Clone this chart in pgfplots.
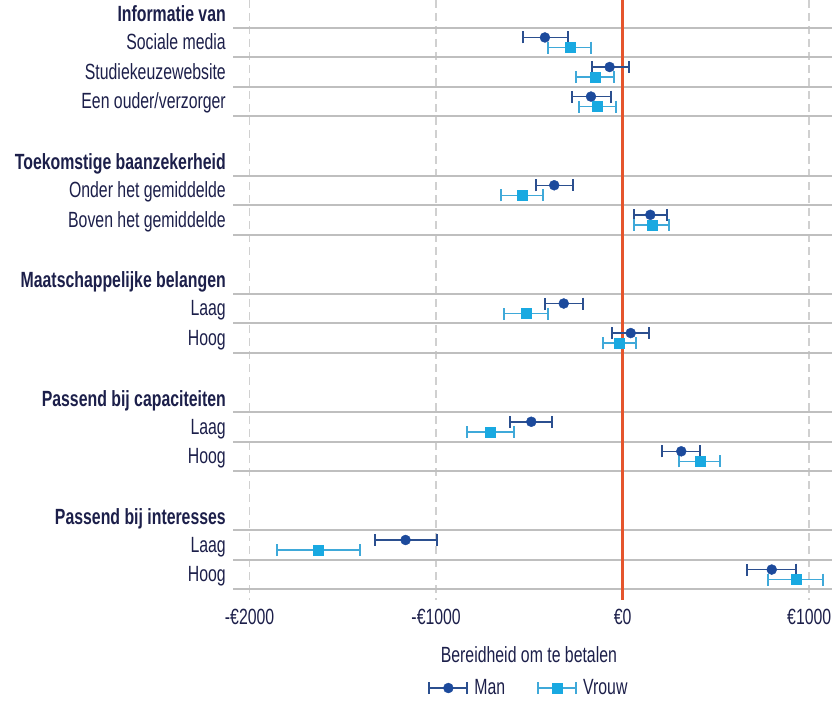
\documentclass[border=0pt]{standalone}
\usepackage{fontspec}
\setmainfont{Liberation Sans}[FakeStretch=0.72]
\usepackage{pgfplots}
\pgfplotsset{compat=1.18}
\usepackage{pgfplotstable}

\definecolor{navy}{HTML}{1C1F4A}
\definecolor{manblue}{HTML}{1C4A9C}
\definecolor{manbar}{HTML}{2B4F8F}
\definecolor{vrouwblue}{HTML}{19A9E1}
\definecolor{vrouwbar}{HTML}{3FA9D9}
\definecolor{zeroline}{HTML}{E5552D}
\definecolor{rowline}{HTML}{BFBFBF}
\definecolor{dashgrid}{HTML}{D0D0D0}

\newcommand\chartfont{\fontsize{22bp}{26bp}\selectfont}

% y = row position (top to bottom), m = estimate, lo/hi = interval bounds
\pgfplotstableread{
y     m      lo     hi
0.33  -417   -533   -295
1.33  -70    -166   34
2.33  -170   -273   -63
5.33  -367   -465   -265
6.33  148    59     239
9.33  -316   -418   -211
10.33 43     -57    141
13.33 -490   -603   -379
14.33 314    212    416
17.33 -1164  -1328  -997
18.33 799    665    929
}\man

\pgfplotstableread{
y     m      lo     hi
0.67  -283   -399   -170
1.67  -150   -252   -47
2.67  -138   -234   -36
5.67  -538   -654   -429
6.67  159    59     250
9.67  -515   -635   -402
10.67 -18    -107   71
13.67 -712   -837   -583
14.67 414    304    522
17.67 -1632  -1855  -1409
18.67 929    777    1076
}\vrouw

\begin{document}
\begin{tikzpicture}
\useasboundingbox (0,0) rectangle (832bp,702bp);
\begin{axis}[
  at={(233bp,102bp)}, anchor=south west,
  scale only axis, width=599bp, height=600bp,
  xmin=-2089, xmax=1122,
  ymin=-0.937, ymax=19.36, y dir=reverse,
  axis line style={draw=none},
  major tick length=0pt,
  font=\chartfont,
  xtick={-2000,-1000,0,1000},
  xticklabels={-€2000,-€1000,€0,€1000},
  xticklabel style={anchor=north, inner sep=0pt, yshift=-9bp, text=navy},
  xmajorgrids=true,
  major grid style={dash pattern=on 8bp off 5bp, color=dashgrid, line width=1.5bp},
  ytick={-0.2,0.75,1.75,2.75,4.8,5.75,6.75,8.8,9.75,10.75,12.8,13.75,14.75,16.8,17.75,18.75},
  yticklabels={
    \textbf{Informatie van}, Sociale media, Studiekeuzewebsite, Een ouder/verzorger,
    \textbf{Toekomstige baanzekerheid}, Onder het gemiddelde, Boven het gemiddelde,
    \textbf{Maatschappelijke belangen}, Laag, Hoog,
    \textbf{Passend bij capaciteiten}, Laag, Hoog,
    \textbf{Passend bij interesses}, Laag, Hoog},
  yticklabel style={anchor=base east, inner sep=0pt, xshift=-7bp, text=navy},
  extra y ticks={0,1,2,3,5,6,7,9,10,11,13,14,15,17,18,19},
  extra y tick labels={},
  extra y tick style={grid=major, major grid style={solid, color=rowline, line width=2bp}},
  xlabel={Bereidheid om te betalen},
  xlabel style={at={(axis description cs:0.494,-0.0917)}, anchor=center, text=navy},
  legend columns=2,
  legend style={at={(0.494,-0.1467)}, anchor=center, draw=none, fill=none,
    font=\chartfont, text=navy,
    /tikz/every odd column/.append style={column sep=4bp},
    /tikz/every even column/.append style={column sep=30bp}},
  legend image code/.code={
    \draw[#1, mark=none, line width=1.5bp] (0bp,0bp) -- (38bp,0bp);
    \draw[#1, mark=none, line width=2bp] (0bp,-6bp) -- (0bp,6bp) (38bp,-6bp) -- (38bp,6bp);
    \draw[#1, only marks] plot coordinates {(19bp,0bp)};
  },
]
% reference line at zero
\addplot[forget plot, color=zeroline, line width=2.5bp] coordinates {(0,-0.937) (0,19.36)};

\addplot[only marks, color=manbar, mark=*, mark size=5bp,
  mark options={fill=manblue, draw=manblue},
  error bars/.cd, x dir=both, x explicit, error mark=|,
  error bar style={line width=1.5bp, color=manbar},
  error mark options={line width=2bp, mark size=6bp, color=manbar}]
  table[x=m, y=y, x error plus expr=\thisrow{hi}-\thisrow{m}, x error minus expr=\thisrow{m}-\thisrow{lo}] {\man};

\addplot[only marks, color=vrouwbar, mark=square*, mark size=5bp,
  mark options={fill=vrouwblue, draw=vrouwblue},
  error bars/.cd, x dir=both, x explicit, error mark=|,
  error bar style={line width=1.5bp, color=vrouwbar},
  error mark options={line width=2bp, mark size=6bp, color=vrouwbar}]
  table[x=m, y=y, x error plus expr=\thisrow{hi}-\thisrow{m}, x error minus expr=\thisrow{m}-\thisrow{lo}] {\vrouw};

\legend{Man, Vrouw}
\end{axis}
\end{tikzpicture}
\end{document}
